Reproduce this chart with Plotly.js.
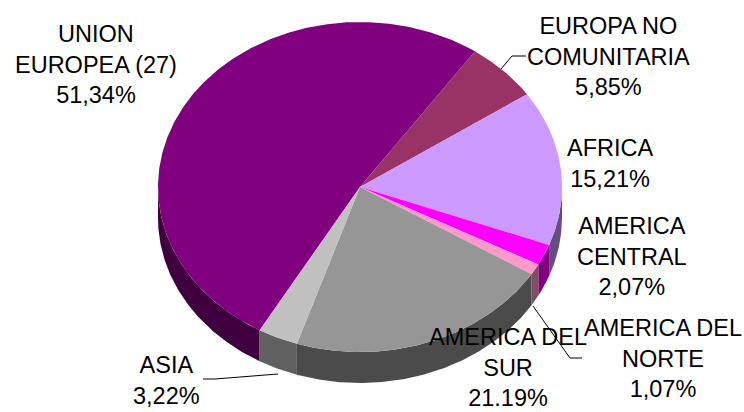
<!DOCTYPE html>
<html><head><meta charset="utf-8">
<script src="https://cdn.plot.ly/plotly-3.0.1.min.js"></script>
<style>html,body{margin:0;padding:0;background:#fff;}#chart{width:744px;height:412px;}</style>
</head><body><div id="chart"></div>
<script>
// ---- data ----
const categories = ["UNION EUROPEA (27)", "EUROPA NO COMUNITARIA", "AFRICA", "AMERICA CENTRAL", "AMERICA DEL NORTE", "AMERICA DEL SUR", "ASIA"];
const values = [51.34, 5.85, 15.21, 2.07, 1.07, 21.19, 3.22];
const labelTexts = ["UNION<br>EUROPEA (27)<br>51,34%", "EUROPA NO<br>COMUNITARIA<br>5,85%", "AFRICA<br>15,21%", "AMERICA<br>CENTRAL<br>2,07%", "AMERICA DEL<br>NORTE<br>1,07%", "AMERICA DEL<br>SUR<br>21.19%", "ASIA<br>3,22%"];

// ---- styles / geometry ----
const topColors  = ["#800080","#993366","#CC99FF","#FF00FF","#FF99CC","#969696","#C0C0C0"];
const sideColors = ["#400040","#4D1A33","#664D80","#800080","#804D66","#4B4B4B","#606060"];
const labelPos = [[96,64],[608,56],[610,163],[632,256],[663,358],[508,367],[166,380]];
const CX = 360, CY = 187, RX = 202, RY = 165, DEPTH = 31;
const START = -119.8; // degrees, first slice start, clockwise

const total = values.reduce((a,b)=>a+b,0);
const rad = d => d*Math.PI/180;
function arcPts(a, b, dy) {
  const n = Math.max(2, Math.ceil(Math.abs(b-a)/0.5));
  const xs=[], ys=[];
  for (let i=0;i<=n;i++){ const t = rad(a + (b-a)*i/n); xs.push(CX+RX*Math.cos(t)); ys.push(CY-RY*Math.sin(t)+dy); }
  return [xs, ys];
}
const sideTraces = [], topTraces = [];
let t = START;
values.forEach((v,i)=>{
  const span = v/total*360;
  const t1 = t, t2 = t - span;
  const [ax, ay] = arcPts(t1, t2, 0);
  topTraces.push({type:'scatter', mode:'lines', x:[CX,...ax,CX], y:[CY,...ay,CY], fill:'toself',
    fillcolor:topColors[i], line:{width:0}, hoverinfo:'skip', name:categories[i], showlegend:false});
  const lo = Math.min(t1,t2), hi = Math.max(t1,t2);
  for (let k=-2;k<=1;k++){
    const a = Math.max(lo, -180+360*k), b = Math.min(hi, 360*k);
    if (b > a) {
      const [tx, ty] = arcPts(a, b, 0);
      const [bx, by] = arcPts(b, a, DEPTH);
      sideTraces.push({type:'scatter', mode:'lines', x:[...tx,...bx,tx[0]], y:[...ty,...by,ty[0]], fill:'toself',
        fillcolor:sideColors[i], line:{width:0}, hoverinfo:'skip', showlegend:false});
    }
  }
  t = t2;
});

const annotations = labelTexts.map((txt,i)=>({x:labelPos[i][0], y:labelPos[i][1], xref:'x', yref:'y', text:txt,
  showarrow:false, xanchor:'center', yanchor:'middle', align:'center',
  font:{family:'Liberation Sans, Arial, sans-serif', size:23.5, color:'#000'}}));

const leader = {type:'path', xref:'x', yref:'y', line:{color:'#000', width:1}};
const shapes = [
  Object.assign({path:'M501,69 L512,56 L526,56'}, leader),
  Object.assign({path:'M278,374 L215,379 L203,379'}, leader),
  Object.assign({path:'M533,306 L570,358 L582,358'}, leader)
];

const layout = {
  width:744, height:412, autosize:false,
  margin:{l:0,r:0,t:0,b:0},
  paper_bgcolor:'#fff', plot_bgcolor:'#fff',
  xaxis:{range:[0,744], visible:false, fixedrange:true},
  yaxis:{range:[412,0], visible:false, fixedrange:true},
  showlegend:false, annotations, shapes
};
Plotly.newPlot('chart', [...sideTraces, ...topTraces], layout, {staticPlot:true, displayModeBar:false});
</script></body></html>
